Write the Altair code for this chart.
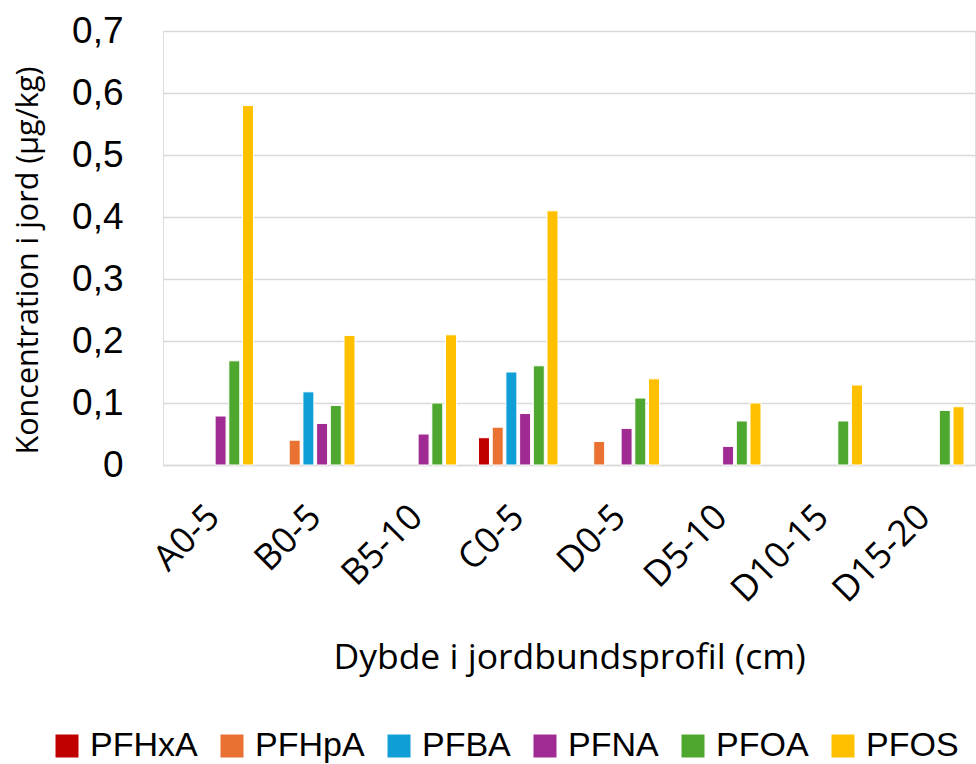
import altair as alt
import pandas as pd

# Soil samples (profile + depth interval, cm)
samples = ["A0-5", "B0-5", "B5-10", "C0-5", "D0-5", "D5-10", "D10-15", "D15-20"]

# PFAS concentrations in soil (µg/kg); None = not detected
pfhxa = [None, None, None, 0.044, None, None, None, None]
pfhpa = [None, 0.040, None, 0.061, 0.038, None, None, None]
pfba = [None, 0.118, None, 0.150, None, None, None, None]
pfna = [0.079, 0.067, 0.050, 0.083, 0.059, 0.030, None, None]
pfoa = [0.168, 0.096, 0.100, 0.160, 0.108, 0.071, 0.071, 0.088]
pfos = [0.580, 0.209, 0.210, 0.410, 0.139, 0.100, 0.129, 0.094]

series = ["PFHxA", "PFHpA", "PFBA", "PFNA", "PFOA", "PFOS"]
colors = ["#C00000", "#E97132", "#0F9ED5", "#A02B93", "#4EA72E", "#FFC000"]
values = [pfhxa, pfhpa, pfba, pfna, pfoa, pfos]

rows = []
for name, vals in zip(series, values):
    for sample, v in zip(samples, vals):
        if v is not None:
            rows.append({"Prøve": sample, "Stof": name, "Koncentration": v})
df = pd.DataFrame(rows)

FONT_TXT = "Open Sans"
FONT_NUM = "Liberation Sans"

chart = (
    alt.Chart(df)
    .mark_bar(stroke="white", strokeWidth=1)
    .encode(
        x=alt.X(
            "Prøve:N",
            sort=samples,
            scale=alt.Scale(domain=samples, paddingInner=0.19, paddingOuter=0.095),
            axis=alt.Axis(
                title="Dybde i jordbundsprofil (cm)",
                titleFont=FONT_TXT,
                titleFontSize=35.5,
                titleFontWeight="normal",
                titleColor="#000000",
                titleBaseline="middle",
                titleY=192,
                labelFont=FONT_TXT,
                labelFontSize=36,
                labelColor="#000000",
                labelAngle=-45,
                labelAlign="right",
                labelBaseline="middle",
                labelPadding=46,
                ticks=False,
                grid=False,
                domainColor="#D9D9D9",
                domainWidth=1.5,
            ),
        ),
        xOffset=alt.XOffset(
            "Stof:N",
            sort=series,
            scale=alt.Scale(domain=series, paddingInner=0.2, paddingOuter=0.1),
        ),
        y=alt.Y(
            "Koncentration:Q",
            scale=alt.Scale(domain=[0, 0.7], nice=False),
            axis=alt.Axis(
                title="Koncentration i jord (µg/kg)",
                titleFont=FONT_TXT,
                titleFontSize=30.5,
                titleFontWeight="normal",
                titleColor="#000000",
                titleX=-135,
                titleY=229,
                titleBaseline="middle",
                values=[0, 0.1, 0.2, 0.3, 0.4, 0.5, 0.6, 0.7],
                labelExpr="datum.value == 0 ? '0' : replace(format(datum.value, '.1f'), '.', ',')",
                labelFont=FONT_NUM,
                labelFontSize=37,
                labelColor="#000000",
                labelPadding=40,
                ticks=False,
                domain=False,
                gridColor="#D9D9D9",
                gridWidth=1.5,
            ),
        ),
        color=alt.Color(
            "Stof:N",
            sort=series,
            scale=alt.Scale(domain=series, range=colors),
            legend=alt.Legend(
                title=None,
                orient="none",
                direction="horizontal",
                legendX=-113,
                legendY=698,
                symbolType="square",
                symbolSize=529,
                symbolStrokeWidth=0,
                labelFont=FONT_NUM,
                labelFontSize=34,
                labelColor="#000000",
                labelOffset=6,
                columnPadding=17,
            ),
        ),
    )
    .properties(
        width=812,
        height=434,
        autosize=alt.AutoSizeParams(type="none"),
        padding={"left": 163, "top": 31, "right": 1, "bottom": 299},
    )
    .configure_view(stroke=None)
    .configure(background="white")
)

chart.save("out.html", embed_options={"renderer": "svg", "actions": False})
